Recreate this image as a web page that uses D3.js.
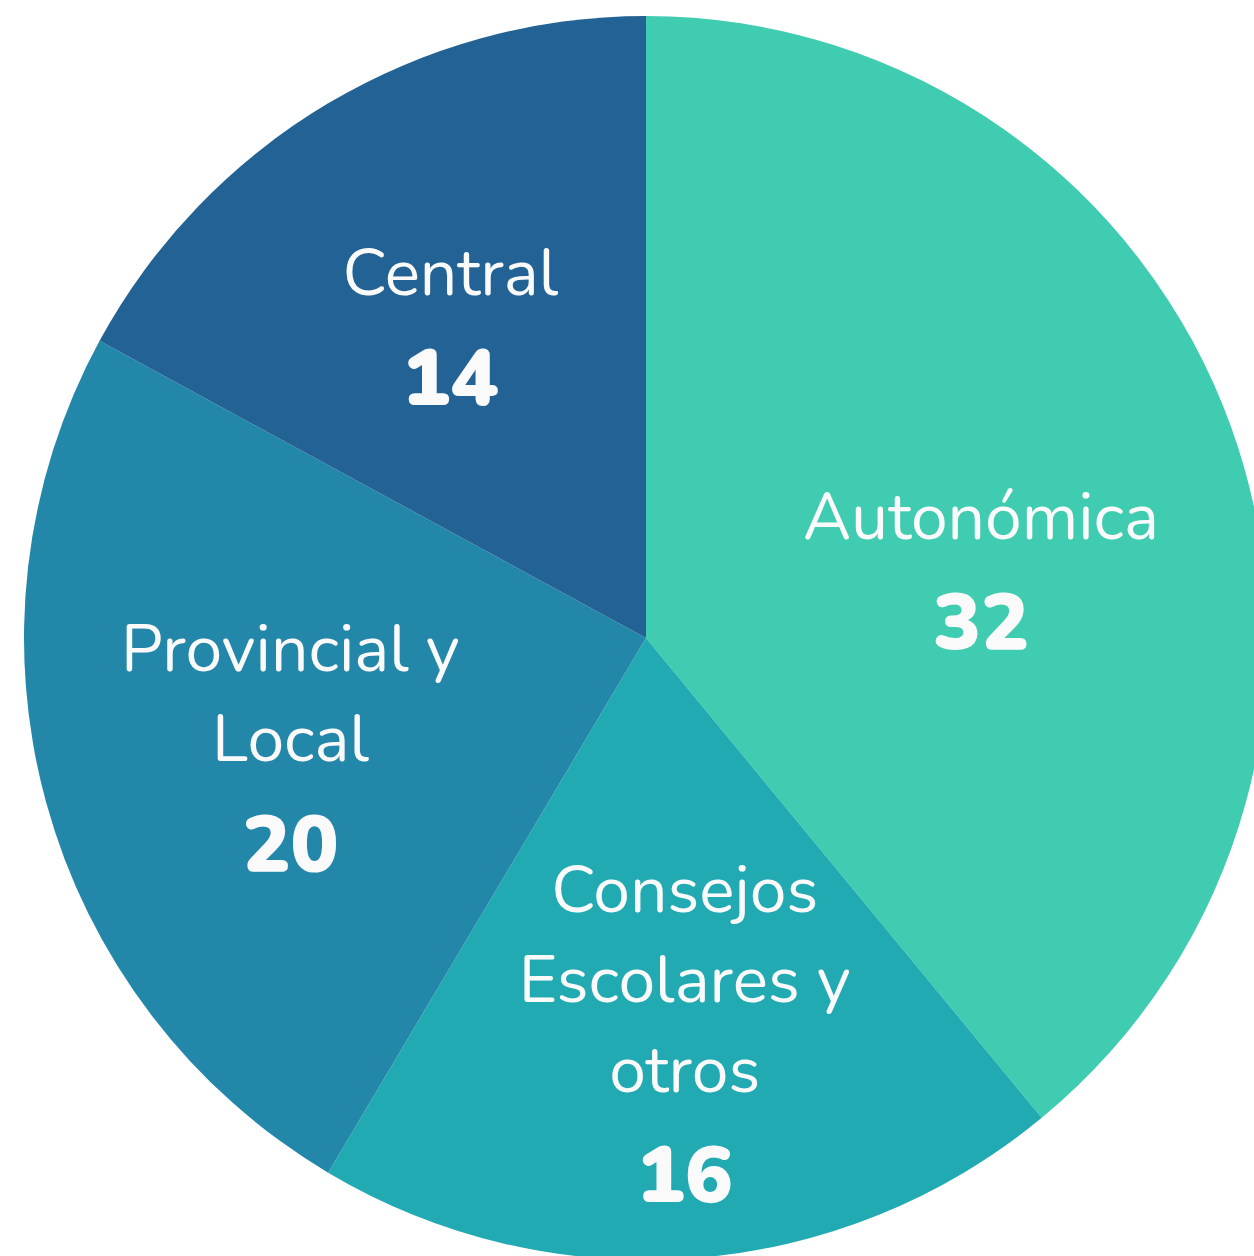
<!doctype html>
<html lang="es">
<head>
<meta charset="utf-8">
<title>Reparto</title>
<script src="https://d3js.org/d3.v7.min.js"></script>
<style>
  html, body { margin: 0; padding: 0; background: #fff; }
  svg { display: block; }
</style>
</head>
<body>
<div id="chart"></div>
<script>
// data
const categories = ["Autonómica", "Consejos Escolares y otros", "Provincial y Local", "Central"];
const labelLines = [["Autonómica"], ["Consejos", "Escolares y", "otros"], ["Provincial y", "Local"], ["Central"]];
const values = [32, 16, 20, 14];
const colors = ["#40CCB0", "#22AAB3", "#2387AA", "#226294"];

var width = 1254,
    height = 1256,
    cx = 646,
    cy = 638,
    radius = 622;

const svg = d3.select("#chart")
    .append("svg")
    .attr("width", width)
    .attr("height", height);

const g = svg.append("g")
    .attr("transform", "translate(" + cx + "," + cy + ")");

const data = categories.map((c, i) => ({name: c, lines: labelLines[i], value: values[i], color: colors[i]}));

const pie = d3.pie()
    .sort(null)
    .value(d => d.value);

const arc = d3.arc()
    .innerRadius(0)
    .outerRadius(radius);

const labelArc = d3.arc()
    .innerRadius(375)
    .outerRadius(375);

const arcs = pie(data);

g.selectAll("path")
    .data(arcs)
    .enter()
    .append("path")
    .attr("d", arc)
    .attr("fill", d => d.data.color);

// label block: lines of name + bold value, centred on the centroid
var lineH = 90,
    numGap = 110;
// small hand nudges to sit like the original
const nudge = [[-18, 59], [10, 21], [6, 10], [-4, 10]];

const labels = g.selectAll("g.label")
    .data(arcs)
    .enter()
    .append("g")
    .attr("class", "label")
    .attr("transform", (d, i) => {
        const c = labelArc.centroid(d);
        const n = d.data.lines.length;
        const blockH = (n - 1) * lineH + numGap;
        return "translate(" + (c[0] + nudge[i][0]) + "," + (c[1] - blockH / 2 + 24 + nudge[i][1]) + ")";
    });

labels.each(function(d) {
    const sel = d3.select(this);
    d.data.lines.forEach((t, j) => {
        sel.append("text")
            .attr("y", j * lineH)
            .attr("text-anchor", "middle")
            .attr("fill", "#fafafa")
            .style("font-family", "Nunito, Lato, 'Open Sans', sans-serif")
            .style("font-size", "66px")
            .text(t);
    });
    sel.append("text")
        .attr("y", (d.data.lines.length - 1) * lineH + numGap)
        .attr("text-anchor", "middle")
        .attr("fill", "#fafafa")
        .style("font-family", "Nunito, Lato, 'Open Sans', sans-serif")
        .style("font-size", "80px")
        .style("font-weight", "900")
        .text(d.data.value);
});
</script>
</body>
</html>
